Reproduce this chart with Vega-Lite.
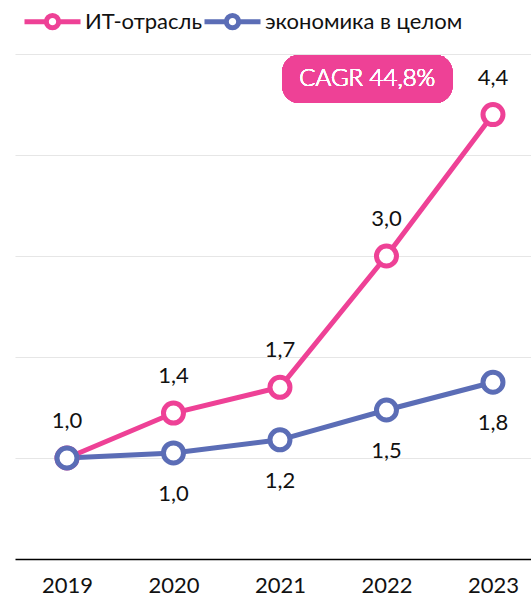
{
  "$schema": "https://vega.github.io/schema/vega-lite/v6.json",
  "width": 516,
  "height": 505,
  "autosize": "none",
  "padding": {"left": 15, "top": 54, "right": 0, "bottom": 45},
  "config": {
    "view": {"stroke": null},
    "font": "Lato",
    "text": {"font": "Lato"}
  },
  "data": {
    "values": [
      {"year": 2019, "series": "ИТ-отрасль", "value": 1.0, "label": "1,0"},
      {"year": 2020, "series": "ИТ-отрасль", "value": 1.445, "label": "1,4"},
      {"year": 2021, "series": "ИТ-отрасль", "value": 1.7, "label": "1,7"},
      {"year": 2022, "series": "ИТ-отрасль", "value": 3.0, "label": "3,0"},
      {"year": 2023, "series": "ИТ-отрасль", "value": 4.4, "label": "4,4"},
      {"year": 2019, "series": "экономика в целом", "value": 1.0, "label": "1,0"},
      {"year": 2020, "series": "экономика в целом", "value": 1.05, "label": "1,0"},
      {"year": 2021, "series": "экономика в целом", "value": 1.18, "label": "1,2"},
      {"year": 2022, "series": "экономика в целом", "value": 1.475, "label": "1,5"},
      {"year": 2023, "series": "экономика в целом", "value": 1.75, "label": "1,8"}
    ]
  },
  "encoding": {
    "x": {
      "field": "year",
      "type": "quantitative",
      "scale": {"domain": [2018.512, 2023.357], "nice": false, "zero": false},
      "axis": {
        "title": null,
        "values": [2019, 2020, 2021, 2022, 2023],
        "format": "d",
        "grid": false,
        "ticks": false,
        "domainColor": "#000000",
        "domainWidth": 1.5,
        "labelFontSize": 22,
        "labelColor": "#111111",
        "labelPadding": 16,
        "labelFont": "Lato"
      }
    },
    "y": {
      "field": "value",
      "type": "quantitative",
      "scale": {"domain": [0, 5], "nice": false},
      "axis": {
        "title": null,
        "values": [1, 2, 3, 4, 5],
        "labels": false,
        "ticks": false,
        "domain": false,
        "grid": true,
        "gridColor": "#e6e6e6",
        "gridWidth": 1.2
      }
    }
  },
  "layer": [
    {
      "mark": {"type": "rect", "color": "#ee4196", "cornerRadius": 17},
      "encoding": {
        "x": {"datum": 2021.02},
        "x2": {"datum": 2022.62},
        "y": {"datum": 4.99},
        "y2": {"datum": 4.515}
      }
    },
    {
      "mark": {"type": "text", "text": "CAGR 44,8%", "color": "#ffffff", "fontSize": 24, "fontWeight": 300, "align": "center", "baseline": "middle", "font": "Lato"},
      "encoding": {
        "x": {"datum": 2021.82},
        "y": {"datum": 4.755}
      }
    },
    {
      "mark": {"type": "line", "strokeWidth": 5},
      "encoding": {
        "color": {
          "field": "series",
          "type": "nominal",
          "scale": {"domain": ["ИТ-отрасль", "экономика в целом"], "range": ["#ee4196", "#5b6db6"]},
          "legend": {
            "title": null,
            "orient": "none",
            "legendX": 7,
            "legendY": -63,
            "direction": "horizontal",
            "symbolType": "M-1,0H-0.22M0.22,0H1M0.22,0A0.22,0.22 0 1 1 -0.22,0A0.22,0.22 0 1 1 0.22,0Z",
            "symbolSize": 3136,
            "symbolStrokeWidth": 5,
            "symbolFillColor": "#ffffff",
            "labelFontSize": 22,
            "labelFont": "Lato",
            "labelColor": "#111111",
            "labelLimit": 400,
            "labelOffset": 2,
            "columnPadding": -12
          }
        }
      }
    },
    {
      "mark": {"type": "point", "shape": "circle", "filled": true, "fill": "#ffffff", "size": 400, "strokeWidth": 5, "opacity": 1},
      "encoding": {
        "stroke": {"field": "series", "type": "nominal", "scale": {"domain": ["ИТ-отрасль", "экономика в целом"], "range": ["#ee4196", "#5b6db6"]}, "legend": null}
      }
    },
    {
      "transform": [{"filter": "datum.series === 'ИТ-отрасль'"}],
      "mark": {"type": "text", "fontSize": 22, "dy": -37, "color": "#111111", "font": "Lato", "baseline": "middle"},
      "encoding": {"text": {"field": "label"}}
    },
    {
      "transform": [{"filter": "datum.series === 'экономика в целом' && datum.year !== 2019"}],
      "mark": {"type": "text", "fontSize": 22, "dy": 41, "color": "#111111", "font": "Lato", "baseline": "middle"},
      "encoding": {"text": {"field": "label"}}
    }
  ]
}
